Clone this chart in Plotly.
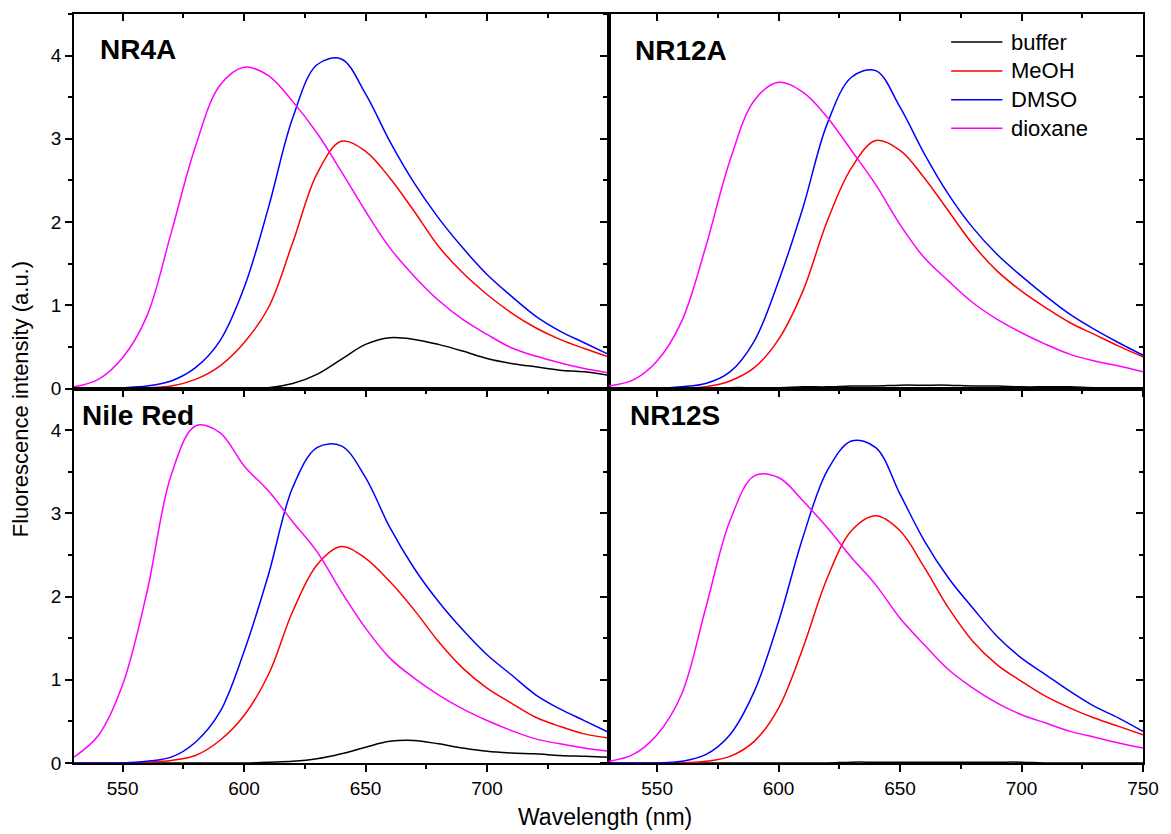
import plotly.graph_objects as go

FONT = "Liberation Sans, Arial, sans-serif"

# ---------------- data ----------------
wavelength = [530, 540, 550, 560, 570, 580, 590, 600, 610, 620, 630, 640,
              650, 660, 670, 680, 690, 700, 710, 720, 730, 740, 750]

series_names = ["buffer", "MeOH", "DMSO", "dioxane"]
series_colors = ["#000000", "#ff0000", "#0000ff", "#ff00ff"]

# NR4A (top-left)
nr4a_buffer = [0, 0, 0, 0, 0, 0, 0, 0.01, 0.01, 0.06, 0.17, 0.35, 0.53, 0.61, 0.59, 0.53, 0.45, 0.36, 0.30, 0.26, 0.22, 0.20, 0.16]
nr4a_meoh = [0, 0, 0, 0.01, 0.03, 0.11, 0.27, 0.55, 0.97, 1.75, 2.58, 2.97, 2.85, 2.53, 2.13, 1.71, 1.39, 1.13, 0.91, 0.73, 0.59, 0.48, 0.38]
nr4a_dmso = [0, 0, 0.01, 0.03, 0.09, 0.25, 0.57, 1.21, 2.17, 3.25, 3.89, 3.96, 3.54, 2.97, 2.47, 2.05, 1.69, 1.37, 1.11, 0.87, 0.69, 0.55, 0.41]
nr4a_dioxane = [0.02, 0.11, 0.37, 0.87, 1.87, 2.91, 3.64, 3.86, 3.76, 3.45, 3.07, 2.61, 2.13, 1.69, 1.35, 1.06, 0.83, 0.65, 0.49, 0.39, 0.31, 0.24, 0.19]

# NR12A (top-right)
nr12a_buffer = [0, 0, 0, 0, 0, 0.01, 0.01, 0.01, 0.02, 0.02, 0.03, 0.03, 0.04, 0.04, 0.04, 0.03, 0.03, 0.02, 0.02, 0.02, 0.01, 0.01, 0.01]
nr12a_meoh = [0, 0, 0, 0, 0.02, 0.09, 0.25, 0.59, 1.17, 2.01, 2.65, 2.98, 2.86, 2.53, 2.13, 1.73, 1.41, 1.17, 0.97, 0.79, 0.65, 0.51, 0.38]
nr12a_dmso = [0, 0, 0, 0.02, 0.06, 0.20, 0.57, 1.29, 2.17, 3.18, 3.74, 3.82, 3.38, 2.82, 2.33, 1.93, 1.61, 1.35, 1.11, 0.89, 0.71, 0.55, 0.40]
nr12a_dioxane = [0.03, 0.10, 0.33, 0.80, 1.70, 2.74, 3.46, 3.68, 3.56, 3.26, 2.86, 2.45, 1.97, 1.57, 1.29, 1.03, 0.83, 0.67, 0.53, 0.41, 0.33, 0.27, 0.20]

# Nile Red (bottom-left)
nilered_buffer = [0, 0, 0, 0, 0, 0, 0, 0, 0.01, 0.02, 0.05, 0.11, 0.19, 0.26, 0.27, 0.23, 0.18, 0.14, 0.12, 0.11, 0.09, 0.08, 0.07]
nilered_meoh = [0, 0, 0, 0.01, 0.03, 0.09, 0.27, 0.57, 1.06, 1.82, 2.38, 2.60, 2.46, 2.18, 1.84, 1.46, 1.14, 0.90, 0.72, 0.55, 0.44, 0.35, 0.30]
nilered_dmso = [0, 0, 0, 0.02, 0.07, 0.25, 0.61, 1.34, 2.26, 3.31, 3.79, 3.81, 3.43, 2.83, 2.34, 1.94, 1.60, 1.30, 1.06, 0.82, 0.65, 0.51, 0.37]
nilered_dioxane = [0.07, 0.33, 0.94, 2.05, 3.46, 4.05, 3.97, 3.57, 3.27, 2.90, 2.54, 2.06, 1.62, 1.26, 1.02, 0.82, 0.65, 0.51, 0.39, 0.29, 0.23, 0.18, 0.14]

# NR12S (bottom-right)
nr12s_buffer = [0, 0, 0, 0, 0, 0, 0, 0, 0, 0, 0.01, 0.01, 0.01, 0.01, 0.01, 0.01, 0.01, 0.01, 0, 0, 0, 0, 0]
nr12s_meoh = [0, 0, 0, 0, 0.02, 0.08, 0.26, 0.66, 1.38, 2.22, 2.79, 2.97, 2.79, 2.35, 1.86, 1.46, 1.18, 0.98, 0.80, 0.66, 0.54, 0.44, 0.34]
nr12s_dmso = [0, 0, 0, 0.02, 0.10, 0.34, 0.86, 1.70, 2.71, 3.51, 3.87, 3.79, 3.23, 2.67, 2.22, 1.86, 1.52, 1.26, 1.06, 0.86, 0.68, 0.54, 0.38]
nr12s_dioxane = [0.02, 0.10, 0.34, 0.82, 1.86, 2.91, 3.45, 3.43, 3.15, 2.83, 2.47, 2.14, 1.74, 1.42, 1.12, 0.90, 0.72, 0.58, 0.48, 0.38, 0.31, 0.24, 0.18]

panel_labels = ["NR4A", "NR12A", "Nile Red", "NR12S"]
panel_data = [
    [nr4a_buffer, nr4a_meoh, nr4a_dmso, nr4a_dioxane],
    [nr12a_buffer, nr12a_meoh, nr12a_dmso, nr12a_dioxane],
    [nilered_buffer, nilered_meoh, nilered_dmso, nilered_dioxane],
    [nr12s_buffer, nr12s_meoh, nr12s_dmso, nr12s_dioxane],
]

x_ticks_left = [550, 600, 650, 700]
x_ticks_right = [550, 600, 650, 700, 750]
y_ticks = [0, 1, 2, 3, 4]

# ---------------- figure ----------------
fig = go.Figure()
axis_ids = ["", "2", "3", "4"]
for p, data in enumerate(panel_data):
    for name, color, vals in zip(series_names, series_colors, data):
        fig.add_trace(go.Scatter(
            x=wavelength, y=vals, mode="lines", name=name,
            line=dict(color=color, width=1.5, shape="spline", smoothing=1.0),
            xaxis="x" + axis_ids[p], yaxis="y" + axis_ids[p],
            showlegend=False, hoverinfo="skip"))

# dummy traces for the mirrored (inside-tick) axes
for xa, ya in [("x5", "y"), ("x6", "y2"), ("x2", "y5"), ("x4", "y6")]:
    fig.add_trace(go.Scatter(x=[None], y=[None], xaxis=xa, yaxis=ya,
                             showlegend=False, hoverinfo="skip"))

tickfont = dict(family=FONT, size=19, color="black")
base = dict(showline=True, linecolor="black", linewidth=1.5, mirror=True,
            ticks="outside", ticklen=7, tickwidth=1.5, tickcolor="black",
            showgrid=False, zeroline=False, tickfont=tickfont, fixedrange=True)

def xax(domain, anchor, labels, tickvals):
    return dict(base, domain=domain, anchor=anchor, range=[530, 750],
                tickmode="array", tickvals=tickvals, showticklabels=labels,
                minor=dict(ticks="outside", ticklen=4, tickwidth=1.5,
                           tickcolor="black", tick0=525, dtick=50))

def yax(domain, anchor, labels):
    return dict(base, domain=domain, anchor=anchor, range=[0, 4.5],
                tickmode="array", tickvals=y_ticks, showticklabels=labels,
                minor=dict(ticks="outside", ticklen=4, tickwidth=1.5,
                           tickcolor="black", tick0=0.5, dtick=1))

L, R = [0, 0.5], [0.5, 1]
T, B = [0.5, 1], [0, 0.5]

inside_x = dict(range=[530, 750], tickmode="array", tickvals=x_ticks_right,
                ticks="inside", ticklen=7, tickwidth=1.5, tickcolor="black",
                showticklabels=False, showline=False, showgrid=False,
                zeroline=False, side="top", fixedrange=True,
                minor=dict(ticks="inside", ticklen=4, tickwidth=1.5,
                           tickcolor="black", tick0=525, dtick=50))
inside_y = dict(range=[0, 4.5], tickmode="array", tickvals=y_ticks,
                ticks="inside", ticklen=7, tickwidth=1.5, tickcolor="black",
                showticklabels=False, showline=False, showgrid=False,
                zeroline=False, side="right", fixedrange=True,
                minor=dict(ticks="inside", ticklen=4, tickwidth=1.5,
                           tickcolor="black", tick0=0.5, dtick=1))

fig.update_layout(
    width=1171, height=834,
    margin=dict(l=74, r=17, t=14, b=71),
    paper_bgcolor="white", plot_bgcolor="white",
    font=dict(family=FONT, color="black"),
    showlegend=False,
    xaxis=xax(L, "y", False, x_ticks_left),
    yaxis=yax(T, "x", True),
    xaxis2=xax(R, "y2", False, x_ticks_right),
    yaxis2=yax(T, "x2", False),
    xaxis3=xax(L, "y3", True, x_ticks_left),
    yaxis3=yax(B, "x3", True),
    xaxis4=xax(R, "y4", True, x_ticks_right),
    yaxis4=yax(B, "x4", False),
    xaxis5=dict(inside_x, overlaying="x", anchor="y", tickvals=x_ticks_left),
    xaxis6=dict(inside_x, overlaying="x2", anchor="y2"),
    yaxis5=dict(inside_y, overlaying="y2", anchor="x2"),
    yaxis6=dict(inside_y, overlaying="y4", anchor="x4"),
)

# panel labels
label_pos = [("x domain", "y domain", 0.044, 0.905),
             ("x2 domain", "y2 domain", 0.045, 0.903),
             ("x3 domain", "y3 domain", 0.012, 0.929),
             ("x4 domain", "y4 domain", 0.036, 0.927)]
for text, (xr, yr, px, py) in zip(panel_labels, label_pos):
    fig.add_annotation(text="<b>%s</b>" % text, xref=xr, yref=yr, x=px, y=py,
                       xanchor="left", yanchor="middle", showarrow=False,
                       font=dict(family=FONT, size=28, color="black"))

# legend (drawn in the NR12A panel)
legend_rows = [0.925, 0.848, 0.771, 0.695]
for name, color, ry in zip(series_names, series_colors, legend_rows):
    fig.add_shape(type="line", xref="x2 domain", yref="y2 domain",
                  x0=0.641, x1=0.737, y0=ry, y1=ry,
                  line=dict(color=color, width=1.5))
    fig.add_annotation(text=name, xref="x2 domain", yref="y2 domain",
                       x=0.750, y=ry, xanchor="left", yanchor="middle",
                       showarrow=False,
                       font=dict(family=FONT, size=22, color="black"))

# axis titles
fig.add_annotation(text="Wavelength (nm)", xref="paper", yref="paper",
                   x=0.497, y=-0.072, xanchor="center", yanchor="middle",
                   showarrow=False, font=dict(family=FONT, size=23, color="black"))
fig.add_annotation(text="Fluorescence intensity (a.u.)", xref="paper", yref="paper",
                   x=-0.050, y=0.485, xanchor="center", yanchor="middle",
                   textangle=-90, showarrow=False,
                   font=dict(family=FONT, size=22, color="black"))

fig.write_html("out.html", include_plotlyjs=True,
               config={"displayModeBar": False},
               post_script="document.body.style.margin='0';")
